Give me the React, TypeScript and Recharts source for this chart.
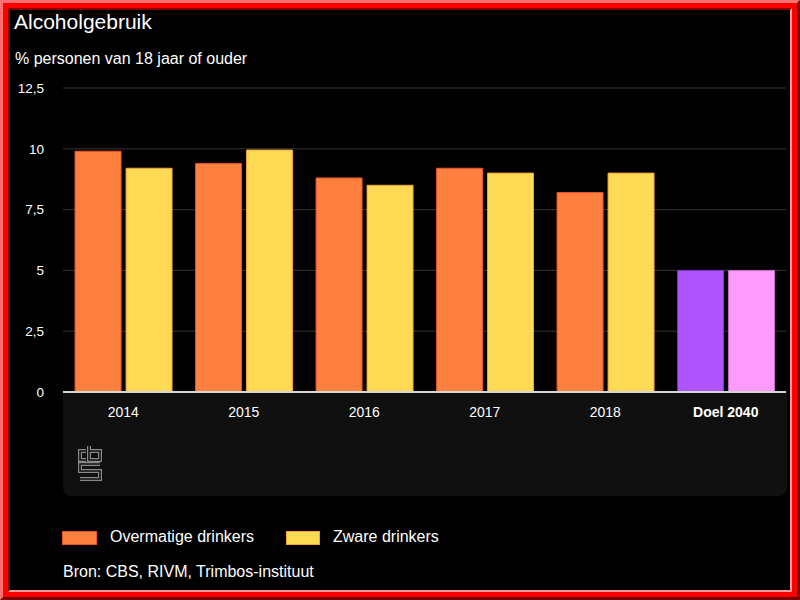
import React from 'react';
import { BarChart, Bar, XAxis, YAxis, CartesianGrid, Cell } from 'recharts';

const categories = ['2014', '2015', '2016', '2017', '2018', 'Doel 2040'];
const overmatigeDrinkers = [9.9, 9.4, 8.8, 9.2, 8.2, 5];
const zwareDrinkers = [9.2, 9.95, 8.5, 9.0, 9.0, 5];
const yTicks = [0, 2.5, 5, 7.5, 10, 12.5];

const seriesNames = ['Overmatige drinkers', 'Zware drinkers'];
const title = 'Alcoholgebruik';
const subtitle = '% personen van 18 jaar of ouder';
const source = 'Bron: CBS, RIVM, Trimbos-instituut';

const data = categories.map((c, i) => ({
  cat: c,
  over: overmatigeDrinkers[i],
  zwaar: zwareDrinkers[i],
}));

const FONT = '"Liberation Sans", Arial, Helvetica, sans-serif';
const ORANGE = '#ff7f3f';
const ORANGE_STROKE = '#e8542a';
const YELLOW = '#ffdb55';
const YELLOW_STROKE = '#f2a33a';
const PURPLE = '#ad53ff';
const PURPLE_STROKE = '#7d35c8';
const PINK = '#ff9aff';
const PINK_STROKE = '#c56ec5';

const fmt = (v: number) => String(v).replace('.', ',');

const XTick = (props: any) => {
  const { x, y, payload } = props;
  const bold = payload.value === 'Doel 2040';
  return (
    <text x={x} y={y} dy={10} textAnchor="middle" fill="#ffffff" fontSize={14} fontFamily={FONT} fontWeight={bold ? 700 : 400}>
      {payload.value}
    </text>
  );
};

const Logo = () => (
  <svg width={26} height={38} viewBox="0 0 26 38" style={{ position: 'absolute', left: 77, top: 445 }}>
    <g fill="none" strokeLinejoin="miter" strokeLinecap="butt">
      <path d="M9,6 H3 V15 H9 M12,1 V15 H23 V6 H12 M23,19 H3 V26 H23 V34 H3" stroke="#8a8a8a" strokeWidth={4} />
      <path d="M9,6 H3 V15 H9 M12,1 V15 H23 V6 H12 M23,19 H3 V26 H23 V34 H3" stroke="#111111" strokeWidth={1.6} />
    </g>
  </svg>
);

export default function App() {
  return (
    <div style={{ position: 'fixed', left: 0, top: 0, width: 800, height: 600, background: '#000', overflow: 'hidden', fontFamily: FONT }}>
      <div style={{ position: 'absolute', left: 63, top: 393, width: 724, height: 103, background: '#101010', borderBottomLeftRadius: 8, borderBottomRightRadius: 8 }} />
      <Logo />
      <div style={{ position: 'absolute', left: 14, top: 11, fontSize: 21, lineHeight: '21px', color: '#fff', whiteSpace: 'nowrap' }}>{title}</div>
      <div style={{ position: 'absolute', left: 15, top: 50.5, fontSize: 16, lineHeight: '16px', color: '#fff', whiteSpace: 'nowrap' }}>{subtitle}</div>
      <div style={{ position: 'absolute', left: 0, top: 0 }}>
        <BarChart width={800} height={600} data={data} margin={{ top: 88, right: 14, left: 0, bottom: 178 }} barCategoryGap="10%" barGap={5}>
          <CartesianGrid vertical={false} stroke="#363636" strokeWidth={1} />
          <YAxis
            width={63}
            domain={[0, 12.5]}
            ticks={yTicks}
            interval={0}
            axisLine={false}
            tickLine={false}
            tickSize={0}
            tickMargin={19}
            tickFormatter={fmt}
            tick={{ fill: '#ffffff', fontSize: 13.5, fontFamily: FONT }}
          />
          <XAxis
            dataKey="cat"
            height={30}
            interval={0}
            tickLine={false}
            tickSize={0}
            tickMargin={15}
            axisLine={{ stroke: '#d4d4d4', strokeWidth: 2 }}
            tick={<XTick />}
          />
          <Bar dataKey="over" name={seriesNames[0]} fill={ORANGE} stroke={ORANGE_STROKE} strokeWidth={1} isAnimationActive={false}>
            {data.map((d, i) => (
              <Cell key={i} fill={d.cat === 'Doel 2040' ? PURPLE : ORANGE} stroke={d.cat === 'Doel 2040' ? PURPLE_STROKE : ORANGE_STROKE} />
            ))}
          </Bar>
          <Bar dataKey="zwaar" name={seriesNames[1]} fill={YELLOW} stroke={YELLOW_STROKE} strokeWidth={1} isAnimationActive={false}>
            {data.map((d, i) => (
              <Cell key={i} fill={d.cat === 'Doel 2040' ? PINK : YELLOW} stroke={d.cat === 'Doel 2040' ? PINK_STROKE : YELLOW_STROKE} />
            ))}
          </Bar>
        </BarChart>
      </div>
      <div style={{ position: 'absolute', left: 62, top: 531, width: 33, height: 12, background: ORANGE, border: `1px solid ${ORANGE_STROKE}`, boxSizing: 'content-box' }} />
      <div style={{ position: 'absolute', left: 110, top: 528.8, fontSize: 16, lineHeight: '16px', color: '#fff', whiteSpace: 'nowrap' }}>{seriesNames[0]}</div>
      <div style={{ position: 'absolute', left: 286, top: 531, width: 32, height: 12, background: YELLOW, border: `1px solid ${YELLOW_STROKE}`, boxSizing: 'content-box' }} />
      <div style={{ position: 'absolute', left: 333, top: 528.8, fontSize: 16, lineHeight: '16px', color: '#fff', whiteSpace: 'nowrap' }}>{seriesNames[1]}</div>
      <div style={{ position: 'absolute', left: 63, top: 563.8, fontSize: 16, lineHeight: '16px', color: '#fff', whiteSpace: 'nowrap' }}>{source}</div>
      <div style={{ position: 'absolute', left: 0, top: 0, width: 800, height: 600, boxSizing: 'border-box', borderStyle: 'solid', borderWidth: 3, borderColor: '#ff7070 #7a0000 #7a0000 #ff7070', pointerEvents: 'none' }} />
      <div style={{ position: 'absolute', left: 3, top: 3, width: 794, height: 594, boxSizing: 'border-box', borderStyle: 'solid', borderWidth: 5, borderColor: '#ff0000', pointerEvents: 'none' }} />
      <div style={{ position: 'absolute', left: 8, top: 8, width: 784, height: 584, boxSizing: 'border-box', borderStyle: 'solid', borderWidth: 2, borderColor: '#8a0000 #ff9a9a #ff9a9a #8a0000', pointerEvents: 'none' }} />
    </div>
  );
}
